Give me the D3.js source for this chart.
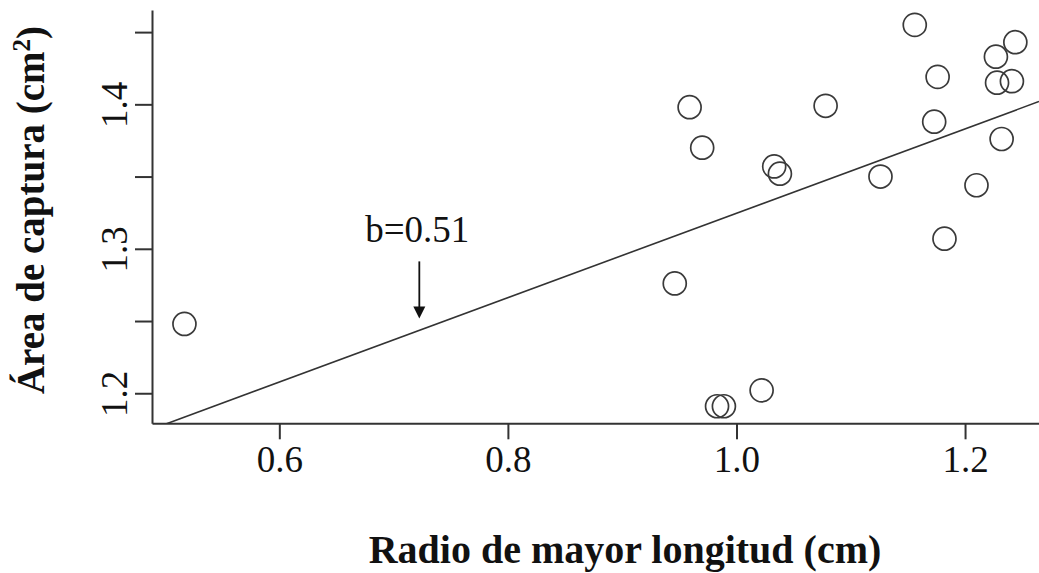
<!DOCTYPE html>
<html>
<head>
<meta charset="utf-8">
<script src="https://cdn.jsdelivr.net/npm/d3@7"></script>
<style>
  body { margin: 0; background: #fff; }
  svg { display: block; font-family: "Liberation Serif", "Times New Roman", serif; }
</style>
</head>
<body>
<svg id="chart" width="1039" height="573"></svg>
<script>
// points
var radio = [1.156, 1.244, 1.227, 1.176, 1.228, 1.241, 0.959, 1.078, 1.173, 0.970, 1.232,
             1.033, 1.038, 1.126, 1.210, 1.182, 0.946, 1.022, 0.983, 0.989, 0.517];
var area  = [1.455, 1.443, 1.433, 1.419, 1.415, 1.416, 1.398, 1.399, 1.388, 1.370, 1.376,
             1.357, 1.352, 1.350, 1.344, 1.307, 1.276, 1.202, 1.191, 1.191, 1.248];

// fitted line y = a + b*x (drawn slope), annotation
var fitIntercept = 1.0324;
var fitSlope = 0.2922;
var annotX = 0.7225;
var annotText = "b=0.51";

var xTicks = [0.6, 0.8, 1.0, 1.2];
var yTicks = [1.2, 1.25, 1.3, 1.35, 1.4, 1.45];
var yLabels = [1.2, 1.3, 1.4];

var m = { left: 152, right: 1039, top: 10, bottom: 423.3 };

var x = d3.scaleLinear().domain([0.4886, 1.2647]).range([m.left, m.right]);
var y = d3.scaleLinear().domain([1.1792, 1.4653]).range([m.bottom, m.top]);

var svg = d3.select("#chart");
var ink = "#333";

svg.append("defs").append("clipPath").attr("id", "plotclip")
  .append("rect").attr("x", m.left).attr("y", m.top)
  .attr("width", m.right - m.left).attr("height", m.bottom - m.top);

// x axis
var xAxis = svg.append("g")
  .attr("transform", "translate(0," + m.bottom + ")")
  .call(d3.axisBottom(x).tickValues(xTicks).tickSize(16).tickSizeOuter(0).tickPadding(6)
    .tickFormat(d3.format(".1f")));
xAxis.select(".domain").attr("stroke", ink).attr("stroke-width", 2);
xAxis.selectAll(".tick line").attr("stroke", ink).attr("stroke-width", 2);
xAxis.selectAll(".tick text")
  .attr("font-family", "Liberation Serif, serif")
  .attr("font-size", 37).attr("fill", "#111");

// y axis
var yAxis = svg.append("g")
  .attr("transform", "translate(" + m.left + ",0)")
  .call(d3.axisLeft(y).tickValues(yTicks).tickSize(17).tickSizeOuter(0)
    .tickFormat(function(d) { return yLabels.some(function(v) { return Math.abs(v - d) < 1e-9; }) ? d3.format(".1f")(d) : ""; }));
yAxis.select(".domain").attr("stroke", ink).attr("stroke-width", 2);
yAxis.selectAll(".tick line").attr("stroke", ink).attr("stroke-width", 2);
yAxis.selectAll(".tick text")
  .attr("font-family", "Liberation Serif, serif")
  .attr("font-size", 37).attr("fill", "#111")
  .attr("x", null).attr("dy", null)
  .attr("text-anchor", "middle")
  .attr("transform", "translate(-25,0) rotate(-90)");

// regression line
var x0 = x.domain()[0], x1 = x.domain()[1];
svg.append("line")
  .attr("clip-path", "url(#plotclip)")
  .attr("x1", x(x0)).attr("y1", y(fitIntercept + fitSlope * x0))
  .attr("x2", x(x1)).attr("y2", y(fitIntercept + fitSlope * x1))
  .attr("stroke", ink).attr("stroke-width", 1.6);

// points
svg.append("g").selectAll("circle")
  .data(d3.range(radio.length))
  .join("circle")
  .attr("cx", function(i) { return x(radio[i]); })
  .attr("cy", function(i) { return y(area[i]); })
  .attr("r", 11.5)
  .attr("fill", "none")
  .attr("stroke", "#3a3a3a")
  .attr("stroke-width", 1.7);

// annotation arrow
var ax = x(annotX);
var tipY = y(fitIntercept + fitSlope * annotX) - 12;
svg.append("line")
  .attr("x1", ax).attr("x2", ax)
  .attr("y1", tipY - 57).attr("y2", tipY - 10)
  .attr("stroke", "#111").attr("stroke-width", 1.8);
svg.append("path")
  .attr("d", "M" + (ax - 6) + "," + (tipY - 12) + "L" + (ax + 6) + "," + (tipY - 12) + "L" + ax + "," + tipY + "Z")
  .attr("fill", "#111");
svg.append("text")
  .attr("x", ax - 2).attr("y", tipY - 76)
  .attr("text-anchor", "middle")
  .attr("font-size", 37).attr("fill", "#111")
  .text(annotText);

// axis titles
svg.append("text")
  .attr("x", 625).attr("y", 563)
  .attr("text-anchor", "middle")
  .attr("font-size", 40).attr("font-weight", "bold").attr("fill", "#111")
  .text("Radio de mayor longitud (cm)");

var yt = svg.append("text")
  .attr("transform", "translate(44,210) rotate(-90)")
  .attr("text-anchor", "middle")
  .attr("font-size", 39).attr("font-weight", "bold").attr("fill", "#111");
yt.append("tspan").text("Área de captura (cm");
yt.append("tspan").attr("font-size", 25).attr("dy", -14).text("2");
yt.append("tspan").attr("dy", 14).text(")");
</script>
</body>
</html>
